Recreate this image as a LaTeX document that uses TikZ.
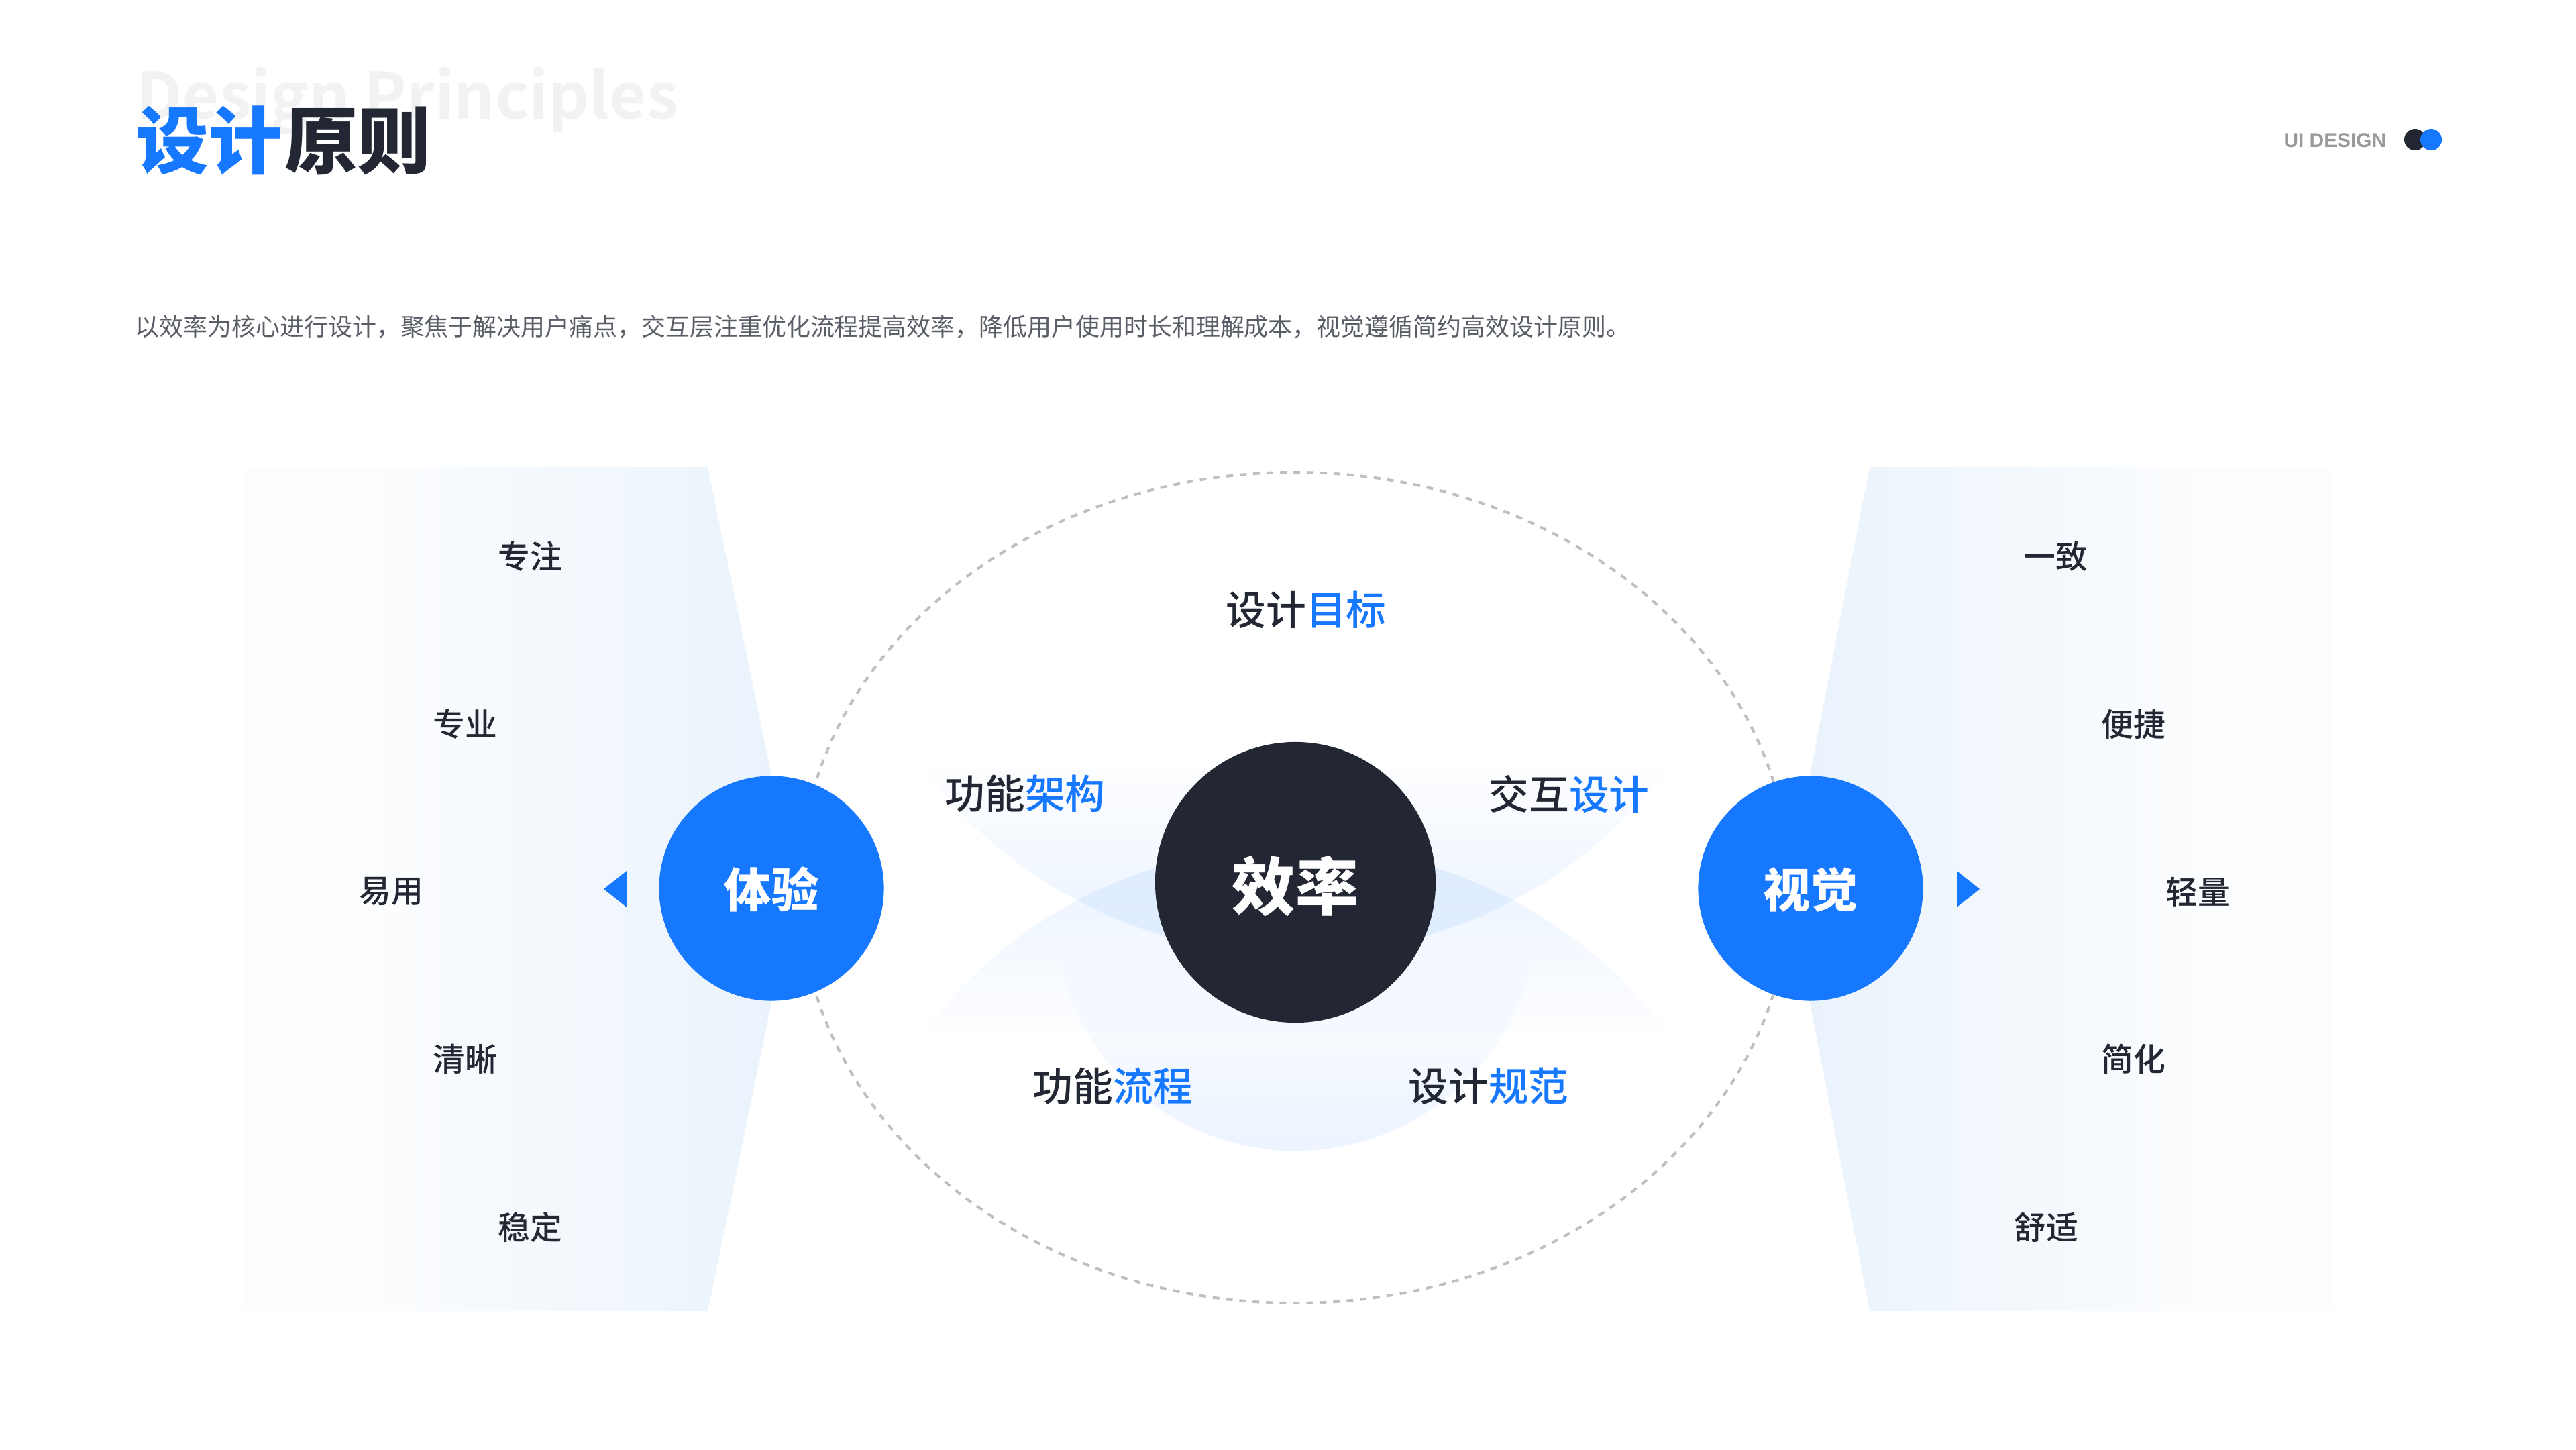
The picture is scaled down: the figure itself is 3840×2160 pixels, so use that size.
\documentclass[tikz,border=0pt]{standalone}
\usepackage{fontspec}
\usepackage{tikz}
\usetikzlibrary{fadings}
\setmainfont{Noto Sans CJK SC}
\newfontfamily\cjkheavy{Noto Sans CJK SC Black}
\newfontfamily\cjkbold{Noto Sans CJK SC Bold}
\newfontfamily\cjkmedium{Noto Sans CJK SC Medium}
\newfontfamily\tagfont{Liberation Sans}
\definecolor{brandblue}{HTML}{1677FF}
\definecolor{inkdark}{HTML}{222733}
\definecolor{paleblue}{HTML}{EAF3FC}
\definecolor{faintblue}{HTML}{FCFDFE}
\pgfdeclarehorizontalshading{panelfade}{100bp}{color(0bp)=(faintblue); color(36bp)=(faintblue); color(75bp)=(paleblue); color(100bp)=(paleblue)}
\tikzfading[name=fade bowl, top color=transparent!99, bottom color=transparent!90]
\tikzfading[name=fade arch, top color=transparent!90, bottom color=transparent!99]
\tikzfading[name=fade cup, top color=transparent!100, bottom color=transparent!91]

\begin{document}
\begin{tikzpicture}[x=0.01cm, y=-0.01cm]
    \tikzstyle{hub}=[
        circle,
        inner sep = 0pt,
        fill = brandblue,
        text = white,
        text height = 0.66cm,
        text depth = 0.084cm,
        minimum size = 3.35cm,
        font = \cjkheavy\fontsize{20}{20}\selectfont
    ]
    \tikzstyle{core}=[
        hub,
        fill = inkdark,
        text height = 0.947cm,
        text depth = 0.113cm,
        minimum size = 4.18cm,
        font = \cjkheavy\fontsize{26.8}{27}\selectfont
    ]
    \tikzstyle{item}=[
        inner sep = 0pt,
        text = inkdark,
        font = \cjkmedium\fontsize{13.6}{14}\selectfont
    ]
    \tikzstyle{goal}=[
        inner sep = 0pt,
        text = inkdark,
        font = \cjkmedium\fontsize{17}{17}\selectfont
    ]
    \tikzstyle{dot}=[
        circle,
        inner sep = 0pt,
        minimum size = 0.32cm
    ]

    \useasboundingbox (0, 0) rectangle (3840, 2160);

    \shade[shading=panelfade] (365, 696) -- (1055, 696) -- (1151, 1160) -- (1151, 1490) -- (1055, 1954) -- (365, 1954) -- cycle;
    \shade[shading=panelfade, shading angle=180] (2787, 696) -- (3475, 696) -- (3475, 1954) -- (2787, 1954) -- (2697, 1490) -- (2697, 1160) -- cycle;

    \draw[line width=0.04cm, color=black!25, dash pattern=on 0.1cm off 0.1cm] (1930, 1323) ellipse [x radius=738, y radius=619];

    \fill[brandblue, path fading=fade bowl] (1376, 1146) arc [start angle=143, end angle=37, radius=695] -- cycle;
    \fill[brandblue, path fading=fade arch] (1376, 1538) arc [start angle=217, end angle=323, radius=695] -- cycle;
    \fill[brandblue, path fading=fade cup] (1575, 1416) arc [start angle=170, end angle=10, radius=362] -- cycle;

    \node[inner sep=0pt, anchor=base west, text=black!5, font=\cjkbold\fontsize{27.1}{28}\selectfont] (subtitle) at (203, 177) {Design Principles};
    \node[inner sep=0pt, anchor=west, font=\cjkheavy\fontsize{31}{31}\selectfont] (title) at (202, 210) {\textcolor{brandblue}{设计}\kern0.04cm\textcolor{inkdark}{原则}};
    \node[inner sep=0pt, anchor=west, text=inkdark!75, font=\fontsize{10.22}{11}\selectfont] (intro) at (201, 487) {以效率为核心进行设计，聚焦于解决用户痛点，交互层注重优化流程提高效率，降低用户使用时长和理解成本，视觉遵循简约高效设计原则。};
    \node[inner sep=0pt, anchor=east, text=black!40, font=\tagfont\bfseries\fontsize{8.5}{9}\selectfont] (tag) at (3558, 209) {UI DESIGN};
    \node[dot, fill=inkdark]   (dotdark) at (3600, 208) {};
    \node[dot, fill=brandblue] (dotblue) at (3624, 208) {};

    \node[core] (eff) at (1931, 1315) {效率};
    \node[hub]  (exp) at (1150, 1324) {体验};
    \node[hub]  (vis) at (2699, 1324) {视觉};

    \fill[brandblue] (934, 1298) -- (900, 1325) -- (934, 1352) -- cycle;
    \fill[brandblue] (2917, 1298) -- (2951, 1325) -- (2917, 1352) -- cycle;

    \node[goal] (g1) at (1947, 909)  {设计\textcolor{brandblue}{目标}};
    \node[goal] (g2) at (1528, 1183) {功能\textcolor{brandblue}{架构}};
    \node[goal] (g3) at (2339, 1183) {交互\textcolor{brandblue}{设计}};
    \node[goal] (g4) at (1659, 1619) {功能\textcolor{brandblue}{流程}};
    \node[goal] (g5) at (2219, 1619) {设计\textcolor{brandblue}{规范}};

    \node[item] (l1) at (790, 829)  {专注};
    \node[item] (l2) at (693, 1079) {专业};
    \node[item] (l3) at (583, 1329) {易用};
    \node[item] (l4) at (693, 1578) {清晰};
    \node[item] (l5) at (790, 1829) {稳定};

    \node[item] (r1) at (3064, 829)  {一致};
    \node[item] (r2) at (3180, 1079) {便捷};
    \node[item] (r3) at (3276, 1329) {轻量};
    \node[item] (r4) at (3180, 1578) {简化};
    \node[item] (r5) at (3050, 1829) {舒适};

\end{tikzpicture}
\end{document}
